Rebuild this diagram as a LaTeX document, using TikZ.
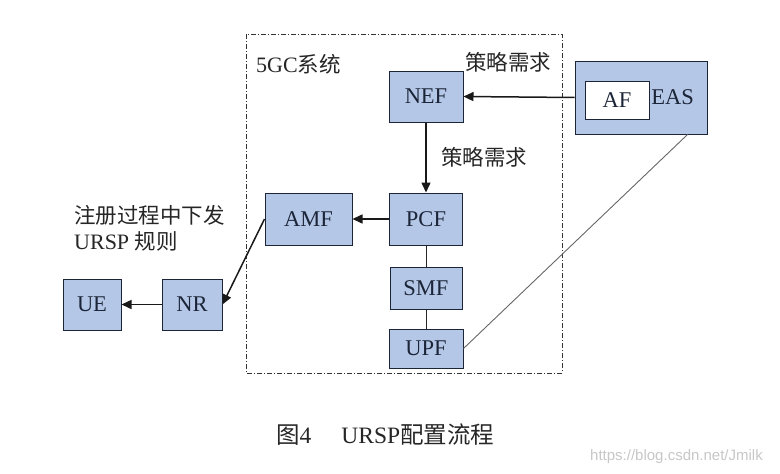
\documentclass[tikz,border=0pt]{standalone}
\usepackage{fontspec}
\setmainfont{Liberation Serif}
\newfontfamily\cjk{Noto Sans CJK SC}
\newfontfamily\marksans{Liberation Sans}
\usetikzlibrary{arrows.meta,calc,positioning}
\definecolor{BoxBlue}{HTML}{B4C7E7}
\definecolor{InkNavy}{HTML}{1C2538}
\definecolor{FrameGray}{HTML}{333333}
\tikzset{
  nfbox/.style={draw=InkNavy,fill=BoxBlue,line width=1pt,text=InkNavy,font=\fontsize{22.5}{25}\selectfont,inner sep=0pt},
  afbox/.style={draw=InkNavy,fill=white,line width=1pt,text=InkNavy,font=\fontsize{22.5}{25}\selectfont,inner sep=0pt},
  frame/.style={draw=FrameGray,line width=.8pt,dash pattern=on 5pt off 2pt on 1pt off 2pt},
  flow/.style={-{Triangle[length=10pt,width=9pt]},draw=black!90,line width=1.5pt},
  link/.style={draw=black!85,line width=1pt},
  thinlink/.style={draw=black!60,line width=.9pt},
  figlabel/.style={font=\fontsize{22}{25}\selectfont,text=black!85,inner sep=0pt},
  caplabel/.style={font=\fontsize{23.5}{26}\selectfont,text=black!85,inner sep=0pt},
  marklabel/.style={font=\marksans\fontsize{15}{18}\selectfont,text=black!22,inner sep=0pt}
}
\begin{document}
\begin{tikzpicture}[x=1pt,y=-1pt]
  \useasboundingbox (0,0) rectangle (780,474);
  % 5GC frame
  \draw[frame] (246,34) rectangle (562,373);
  \node[figlabel,anchor=west] (corelabel) at (256,64) {5GC{\cjk\fontsize{21.5}{25}\selectfont 系统}};
  \node[figlabel] (needtop) at (508,62) {\cjk\fontsize{21.5}{25}\selectfont 策略需求};
  % network functions
  \node[nfbox,minimum width=74,minimum height=51] (nef) at (426,96.5) {NEF};
  \node[nfbox,minimum width=73,minimum height=52] (pcf) at (426,219) {PCF};
  \node[nfbox,minimum width=87,minimum height=52] (amf) at (308.5,219) {AMF};
  \node[nfbox,minimum width=72,minimum height=42] (smf) at (426,288) {SMF};
  \node[nfbox,minimum width=74,minimum height=39] (upf) at (426,348.5) {UPF};
  \node[nfbox,minimum width=60,minimum height=51] (nr) at (192,304.5) {NR};
  \node[nfbox,minimum width=58,minimum height=51] (ue) at (92,304.5) {UE};
  % edge application server
  \node[nfbox,minimum width=132,minimum height=73] (eas) at (641,97.5) {};
  \node[afbox,minimum width=64,minimum height=38] (af) at (617,100) {AF};
  \node[nfbox,draw=none,fill=none,anchor=east] (eastext) at ([xshift=-13]eas.east) {EAS};
  \coordinate (easfoot) at ($(eas.south)!0.7!(eas.south east)$);
  % connectors
  \draw[flow] (eas.west) -- (nef.east);
  \draw[flow] (nef.south) -- (pcf.north);
  \draw[flow] (pcf.west) -- (amf.east);
  \draw[flow] (amf.west) -- (nr.east);
  \draw[flow] (nr.west) -- (ue.east);
  \draw[link] (pcf.south) -- (smf.north);
  \draw[link] (smf.south) -- (upf.north);
  \draw[thinlink] (upf.east) -- (easfoot);
  \node[figlabel] (needmid) at (484,157) {\cjk\fontsize{21.5}{25}\selectfont 策略需求};
  \node[figlabel,anchor=west] (regline) at (74,215) {\cjk\fontsize{21.5}{25}\selectfont 注册过程中下发};
  \node[figlabel,anchor=west] (rulesline) at (74,241) {URSP {\cjk\fontsize{21.5}{25}\selectfont 规则}};
  % caption
  \node[caplabel,anchor=west] (caption) at (276,435) {{\cjk 图}4\hspace{30pt}URSP{\cjk 配置流程}};
  \node[marklabel,anchor=west] (mark) at (590,457) {https://blog.csdn.net/Jmilk};
\end{tikzpicture}
\end{document}
